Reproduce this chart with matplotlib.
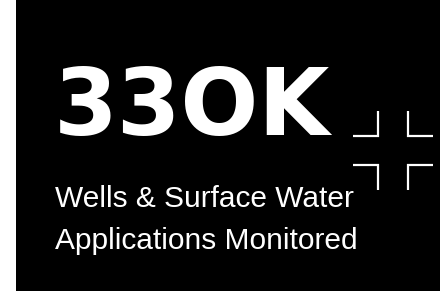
import matplotlib
matplotlib.use("Agg")
import matplotlib.pyplot as plt
from matplotlib.patches import Rectangle

W, H = 440, 291

big_number = "33OK"
sub_lines = ["Wells & Surface Water", "Applications Monitored"]

# corner brackets of the crosshair: (corner x, corner y, dx, dy)
corners = [(378, 136, -1, -1), (408, 136, 1, -1), (378, 165, -1, 1), (408, 165, 1, 1)]
arm = 25

fig = plt.figure(figsize=(W / 100, H / 100), dpi=100)
ax = fig.add_axes([0, 0, 1, 1])
ax.set_xlim(0, W)
ax.set_ylim(H, 0)
ax.axis("off")

ax.add_patch(Rectangle((16, 0), W - 16, H, color="black", lw=0))

ax.text(54, 135, big_number, color="white", fontsize=66, fontweight="bold",
        family="DejaVu Sans", va="baseline", ha="left")

for i, line in enumerate(sub_lines):
    ax.text(55, 207 + i * 42, line, color="white", fontsize=21.5,
            family="Liberation Sans", va="baseline", ha="left")

for cx, cy, dx, dy in corners:
    ax.plot([cx + dx * arm, cx, cx], [cy, cy, cy + dy * arm], color="white",
            lw=1.6, solid_capstyle="butt", solid_joinstyle="miter")

fig.savefig("out.png", dpi=100, facecolor="white")
